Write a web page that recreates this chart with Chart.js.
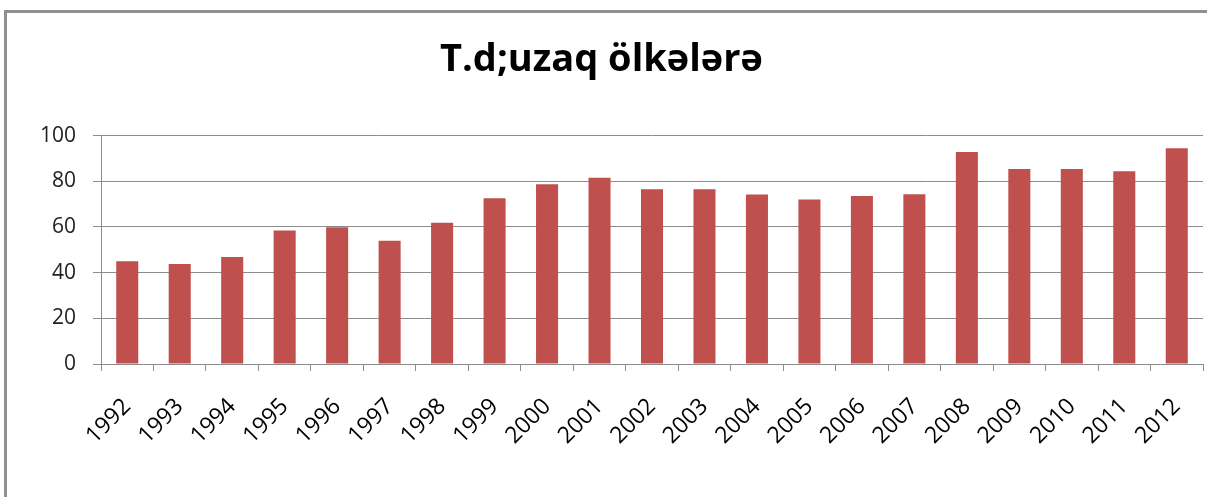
<!DOCTYPE html>
<html>
<head>
<meta charset="utf-8">
<script src="https://cdn.jsdelivr.net/npm/chart.js@4"></script>
<style>
  html, body { margin: 0; padding: 0; background: #fff; }
  #wrap { position: relative; width: 1207px; height: 497px; overflow: hidden; }
  #frame { position: absolute; left: 4px; top: 10px; width: 1260px; height: 540px;
           border: 3px solid #8f8f8f; box-sizing: border-box; }
  canvas { position: absolute; left: 0; top: 0; }
</style>
</head>
<body>
<div id="wrap">
  <div id="frame"></div>
  <canvas id="chart" width="1207" height="497"></canvas>
</div>
<script>
// data
const years = ['1992', '1993', '1994', '1995', '1996', '1997', '1998', '1999', '2000', '2001', '2002',
               '2003', '2004', '2005', '2006', '2007', '2008', '2009', '2010', '2011', '2012'];
const values = [45, 43.8, 46.9, 58.5, 59.9, 54, 61.8, 72.6, 78.7, 81.5, 76.5,
                76.5, 74.2, 72, 73.6, 74.3, 92.8, 85.4, 85.4, 84.4, 94.5];
const yTicks = [0, 20, 40, 60, 80, 100];

const font = "'Open Sans', 'DejaVu Sans', sans-serif";

let ctx = document.getElementById('chart').getContext('2d');
let barChart = new Chart(ctx, {
    type: 'bar',
    data: {
        labels: years,
        datasets: [{
            data: values,
            backgroundColor: '#c0504d',
            borderWidth: 0,
            categoryPercentage: 1,
            barPercentage: 0.42
        }]
    },
    options: {
        responsive: false,
        animation: false,
        layout: { padding: { left: 0, right: 4, top: 0, bottom: 0 } },
        plugins: {
            legend: { display: false },
            tooltip: { enabled: false },
            title: {
                display: true,
                text: 'T.d;uzaq ölkələrə',
                color: '#000',
                font: { family: font, size: 38, weight: 'bold', lineHeight: 1.2 },
                padding: { top: 37, bottom: 53 }
            }
        },
        scales: {
            x: {
                offset: true,
                grid: { offset: true, drawOnChartArea: false, color: '#8c8c8c', tickLength: 7 },
                border: { color: '#8c8c8c' },
                ticks: {
                    color: '#000', font: { family: font, size: 23 },
                    minRotation: 45, maxRotation: 45, padding: 22
                },
                afterFit: s => { s.height = 133; s.paddingRight = 0; s.paddingLeft = 0; }
            },
            y: {
                min: 0, max: 100,
                afterBuildTicks: s => { s.ticks = yTicks.map(v => ({ value: v })); },
                grid: { color: '#8c8c8c', tickLength: 8 },
                border: { color: '#8c8c8c' },
                ticks: { color: '#222', font: { family: font, size: 21 }, padding: 17 },
                afterFit: s => { s.width = 101; }
            }
        }
    }
});
</script>
</body>
</html>
